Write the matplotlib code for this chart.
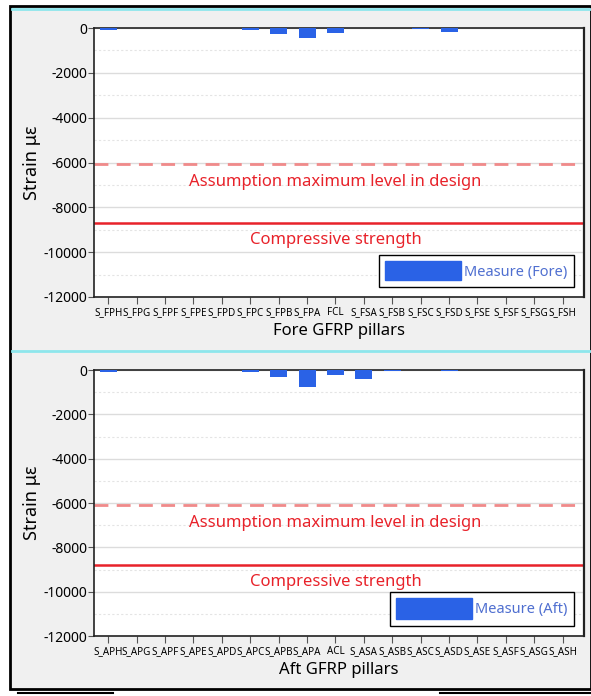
import matplotlib
matplotlib.use("Agg")
import matplotlib.pyplot as plt
from matplotlib.ticker import MultipleLocator
from matplotlib.patches import Rectangle, Patch
from matplotlib.lines import Line2D

plt.rcParams['font.family'] = ['Noto Sans', 'DejaVu Sans']
plt.rcParams['axes.unicode_minus'] = False

# data
fore_labels = ["S_FPH", "S_FPG", "S_FPF", "S_FPE", "S_FPD", "S_FPC", "S_FPB", "S_FPA", "FCL",
               "S_FSA", "S_FSB", "S_FSC", "S_FSD", "S_FSE", "S_FSF", "S_FSG", "S_FSH"]
fore_strain = [-80, 0, 0, 0, 0, -100, -280, -430, -240, 0, 0, -50, -190, 0, 0, 0, 0]

aft_labels = ["S_APH", "S_APG", "S_APF", "S_APE", "S_APD", "S_APC", "S_APB", "S_APA", "ACL",
              "S_ASA", "S_ASB", "S_ASC", "S_ASD", "S_ASE", "S_ASF", "S_ASG", "S_ASH"]
aft_strain = [-100, 0, 0, 0, 0, -100, -300, -780, -220, -420, -60, 0, -60, 0, 0, 0, 0]

design_level = [-6050, -6100]
comp_strength = [-8700, -8800]
panel_titles = ["Fore GFRP pillars", "Aft GFRP pillars"]
legend_names = ["Measure (Fore)", "Measure (Aft)"]

bar_col = '#2a62e6'
red = '#e8222a'
pink = '#f08a8a'

W, H = 591, 696
fig = plt.figure(figsize=(W / 100, H / 100), dpi=100)
fig.patch.set_facecolor('white')

def fx(px):
    return px / W

def fy(py):
    return 1 - py / H

# screenshot-like frame
fig.patches.append(Rectangle((fx(10), fy(689)), fx(591) - fx(10), fy(6) - fy(689),
                             transform=fig.transFigure, facecolor='#f0f0f0',
                             edgecolor='black', linewidth=2, zorder=-10))
for yy in (9, 351):
    fig.lines.append(Line2D([fx(12), 1], [fy(yy), fy(yy)], transform=fig.transFigure,
                            color='#8ee6ec', linewidth=2, zorder=-5))
fig.lines.append(Line2D([fx(18), fx(113)], [fy(693), fy(693)], transform=fig.transFigure,
                        color='black', linewidth=1.5, zorder=-5))
fig.lines.append(Line2D([fx(440), 1], [fy(693), fy(693)], transform=fig.transFigure,
                        color='black', linewidth=1.5, zorder=-5))

panels = [
    (28, 297, fore_labels, fore_strain),
    (370, 636, aft_labels, aft_strain),
]
leg_hh = [1.6, 1.85]

for i, (top, bot, labels, vals) in enumerate(panels):
    ax = fig.add_axes([fx(94), fy(bot), fx(584) - fx(94), fy(top) - fy(bot)])
    ax.set_facecolor('white')
    x = list(range(len(labels)))
    ax.bar(x, vals, width=0.6, color=bar_col, zorder=3, label=legend_names[i])
    ax.set_xlim(-0.5, 16.75)
    ax.set_ylim(-12000, 0)
    ax.set_xticks(x)
    ax.set_xticklabels(labels, fontsize=7.1)
    ax.yaxis.set_major_locator(MultipleLocator(2000))
    ax.yaxis.set_minor_locator(MultipleLocator(1000))
    ax.tick_params(axis='y', labelsize=10, length=4, color='#555555', pad=1)
    ax.tick_params(axis='y', which='minor', length=0)
    ax.tick_params(axis='x', length=5, color='#555555', pad=2)
    ax.grid(axis='y', which='major', color='#dcdcdc', linewidth=1, zorder=0)
    ax.grid(axis='y', which='minor', color='#e4e4e4', linewidth=0.8, linestyle=(0, (2, 2)), zorder=0)
    for s in ax.spines.values():
        s.set_color('#222222')
        s.set_linewidth(1.2)
    ax.spines['right'].set_linewidth(1.6)

    ax.axhline(design_level[i], color=pink, linewidth=2, linestyle=(0, (5, 3)), zorder=2)
    ax.axhline(comp_strength[i], color=red, linewidth=1.8, zorder=2)
    ax.text(8, design_level[i] - 820, "Assumption maximum level in design", color=red,
            fontsize=12, ha='center', va='center')
    ax.text(8, comp_strength[i] - 750, "Compressive strength", color=red,
            fontsize=12, ha='center', va='center')

    ax.set_ylabel("Strain με", fontsize=13, labelpad=2)
    ax.set_xlabel(panel_titles[i], fontsize=12, labelpad=4)

    leg = ax.legend(handles=[Patch(facecolor=bar_col, edgecolor=bar_col)],
                    labels=[legend_names[i]], loc='lower right',
                    frameon=True, fancybox=False, edgecolor='black', framealpha=1,
                    fontsize=10.5, handlelength=5.2, handleheight=leg_hh[i], borderpad=0.45,
                    handletextpad=0.2, labelcolor='#4f6fd0', borderaxespad=0.7)
    leg.get_frame().set_linewidth(1)

fig.savefig("out.png", dpi=100)
